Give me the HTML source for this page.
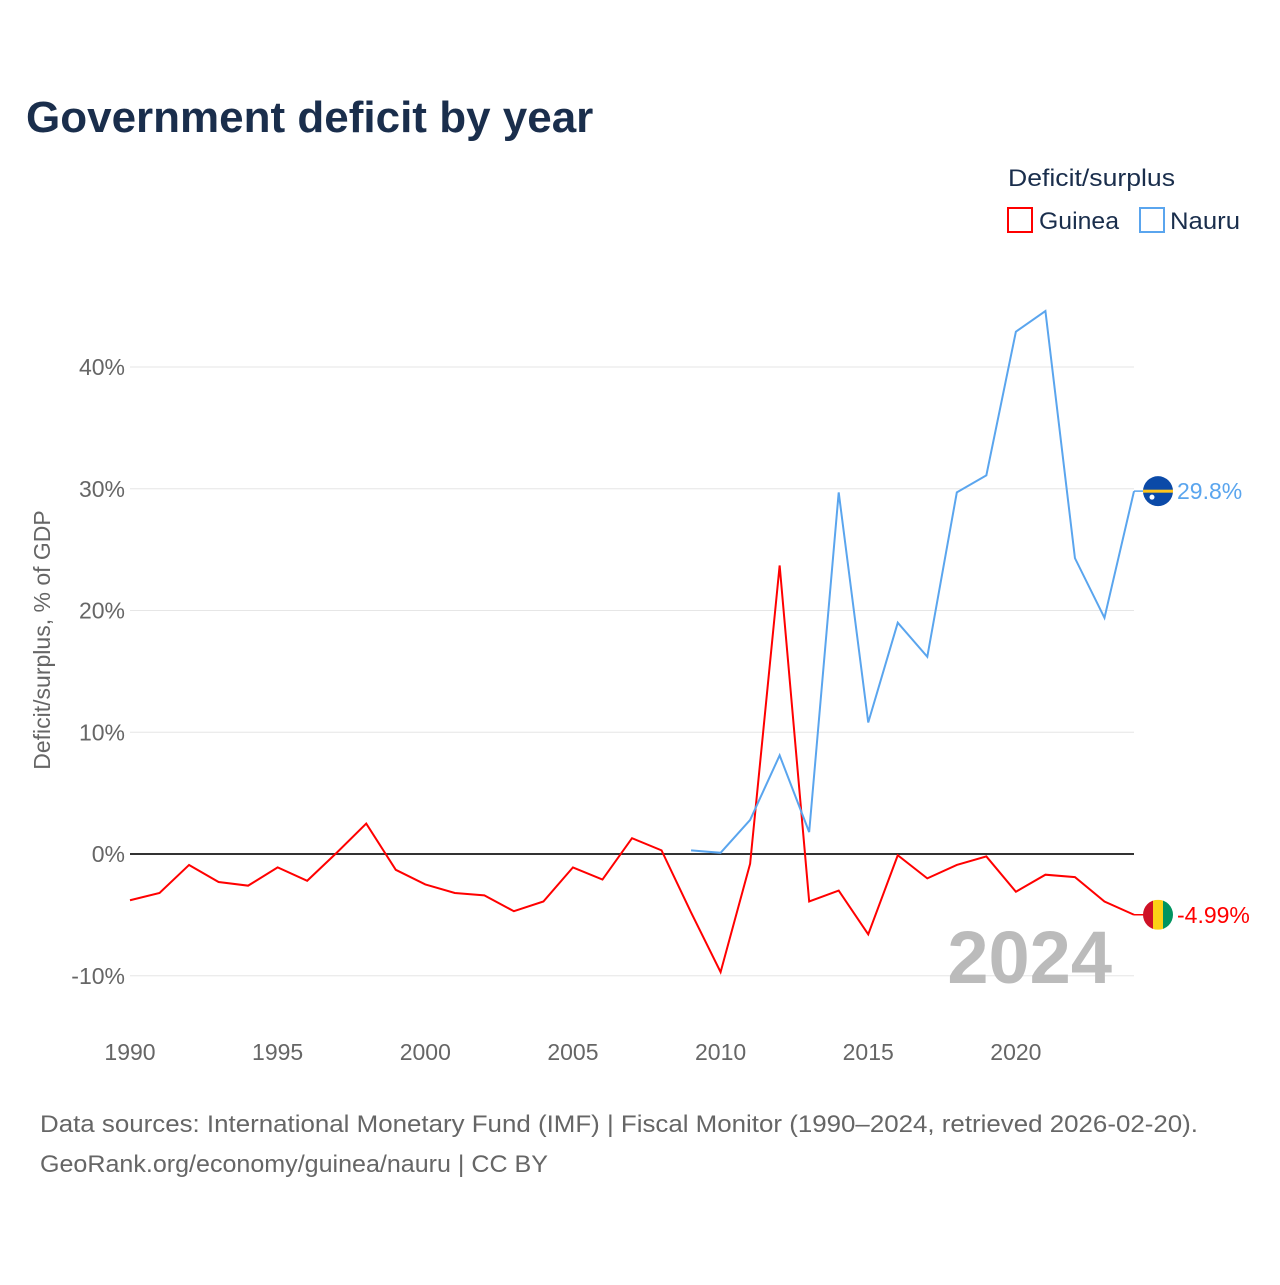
<!DOCTYPE html>
<html><head><meta charset="utf-8"><style>
body{margin:0;background:#fff;font-family:"Liberation Sans",sans-serif;}
svg text{font-family:"Liberation Sans",sans-serif;}
</style></head><body>
<svg id="chart" width="1280" height="1280" viewBox="0 0 1280 1280">
<text x="26" y="132" font-size="44" font-weight="bold" fill="#1a2e4c">Government deficit by year</text>
<text x="1008" y="186" font-size="24" fill="#1a2e4c" textLength="167" lengthAdjust="spacingAndGlyphs">Deficit/surplus</text>
<g><rect x="1008" y="208" width="24" height="24" fill="none" stroke="#f00" stroke-width="2"/><text x="1039" y="229" font-size="24" fill="#1a2e4c" textLength="80" lengthAdjust="spacingAndGlyphs">Guinea</text></g>
<g><rect x="1140" y="208" width="24" height="24" fill="none" stroke="#5aa5ee" stroke-width="2"/><text x="1170" y="229" font-size="24" fill="#1a2e4c" textLength="70" lengthAdjust="spacingAndGlyphs">Nauru</text></g>
<text transform="translate(50,640) rotate(-90)" text-anchor="middle" font-size="23" fill="#666">Deficit/surplus, % of GDP</text>
<g id="grid"></g><g id="yt"></g><g id="xt"></g>
<line x1="130" x2="1134" y1="854" y2="854" stroke="#333" stroke-width="2"/>
<text x="1112" y="983" text-anchor="end" font-size="74" font-weight="bold" fill="#bbb">2024</text>
<g id="series"></g>
<text x="40" y="1132" font-size="24" fill="#666" textLength="1158" lengthAdjust="spacingAndGlyphs">Data sources: International Monetary Fund (IMF) | Fiscal Monitor (1990–2024, retrieved 2026-02-20).</text>
<text x="40" y="1172" font-size="24" fill="#666" textLength="508" lengthAdjust="spacingAndGlyphs">GeoRank.org/economy/guinea/nauru | CC BY</text>
</svg>
<script>
const years=[];for(let y=1990;y<=2024;y++)years.push(y);
const guinea=[-3.8,-3.2,-0.9,-2.3,-2.6,-1.1,-2.2,0.1,2.5,-1.3,-2.5,-3.2,-3.4,-4.7,-3.9,-1.1,-2.1,1.3,0.3,-4.8,-9.7,-0.8,23.7,-3.9,-3.0,-6.6,-0.1,-2.0,-0.9,-0.2,-3.1,-1.7,-1.9,-3.9,-4.99];
const nauruYears=[2009,2010,2011,2012,2013,2014,2015,2016,2017,2018,2019,2020,2021,2022,2023,2024];
const nauru=[0.3,0.1,2.8,8.1,1.8,29.7,10.8,19.0,16.2,29.7,31.1,42.9,44.6,24.3,19.4,29.8];
const yTicks=[-10,0,10,20,30,40];
const xTicks=[1990,1995,2000,2005,2010,2015,2020];
const NS="http://www.w3.org/2000/svg";
const X=y=>130+(y-1990)*(1004/34);
const Y=v=>854-v*12.175;
function mk(t,a,p){const e=document.createElementNS(NS,t);for(const k in a)e.setAttribute(k,a[k]);p.appendChild(e);return e;}
const grid=document.getElementById('grid'),yt=document.getElementById('yt'),xt=document.getElementById('xt'),ser=document.getElementById('series');
yTicks.forEach(v=>{
 if(v!==0){const l=mk('line',{x1:130,x2:1134,y1:Y(v),y2:Y(v),stroke:'#e6e6e6','stroke-width':1},grid);
 
 }
 const t=mk('text',{x:125,y:Y(v)+8,'text-anchor':'end','font-size':23,fill:'#666'},yt);t.textContent=v+'%';
 
 
});
xTicks.forEach(v=>{const t=mk('text',{x:X(v),y:1060,'text-anchor':'middle','font-size':23,fill:'#666'},xt);t.textContent=v;
 
 });
const gp=mk('polyline',{points:years.map((y,i)=>X(y)+','+Y(guinea[i])).join(' '),fill:'none',stroke:'#f00','stroke-width':2},ser);


const np=mk('polyline',{points:nauruYears.map((y,i)=>X(y)+','+Y(nauru[i])).join(' '),fill:'none',stroke:'#5aa5ee','stroke-width':2},ser);


const gl=guinea[guinea.length-1],nl=nauru[nauru.length-1];
const gx=1158,gy=Y(gl),ny=Y(nl);
mk('line',{x1:X(2024),x2:gx,y1:gy,y2:gy,stroke:'#f00','stroke-width':1.5},ser);
mk('line',{x1:X(2024),x2:gx,y1:ny,y2:ny,stroke:'#5aa5ee','stroke-width':1.5},ser);
const gf=mk('g',{},ser);


mk('clipPath',{id:'gc'},gf);mk('circle',{cx:gx,cy:gy,r:15},document.getElementById('gc'));
mk('rect',{x:gx-15,y:gy-15,width:10,height:30,fill:'#ce1126','clip-path':'url(#gc)'},gf);
mk('rect',{x:gx-5,y:gy-15,width:10,height:30,fill:'#fcd116','clip-path':'url(#gc)'},gf);
mk('rect',{x:gx+5,y:gy-15,width:10,height:30,fill:'#009460','clip-path':'url(#gc)'},gf);
const nf=mk('g',{},ser);


mk('circle',{cx:gx,cy:ny,r:15,fill:'#0b4aa8'},nf);
mk('rect',{x:gx-15,y:ny-1.5,width:30,height:3,fill:'#ffc61e'},nf);
mk('circle',{cx:gx-6,cy:ny+6,r:2.5,fill:'#fff'},nf);
const gt=mk('text',{x:1177,y:gy+8,'font-size':23,fill:'#f00'},ser);gt.textContent=gl+'%';


const nt=mk('text',{x:1177,y:ny+8,'font-size':23,fill:'#5aa5ee'},ser);nt.textContent=nl+'%';


</script>
</body></html>
